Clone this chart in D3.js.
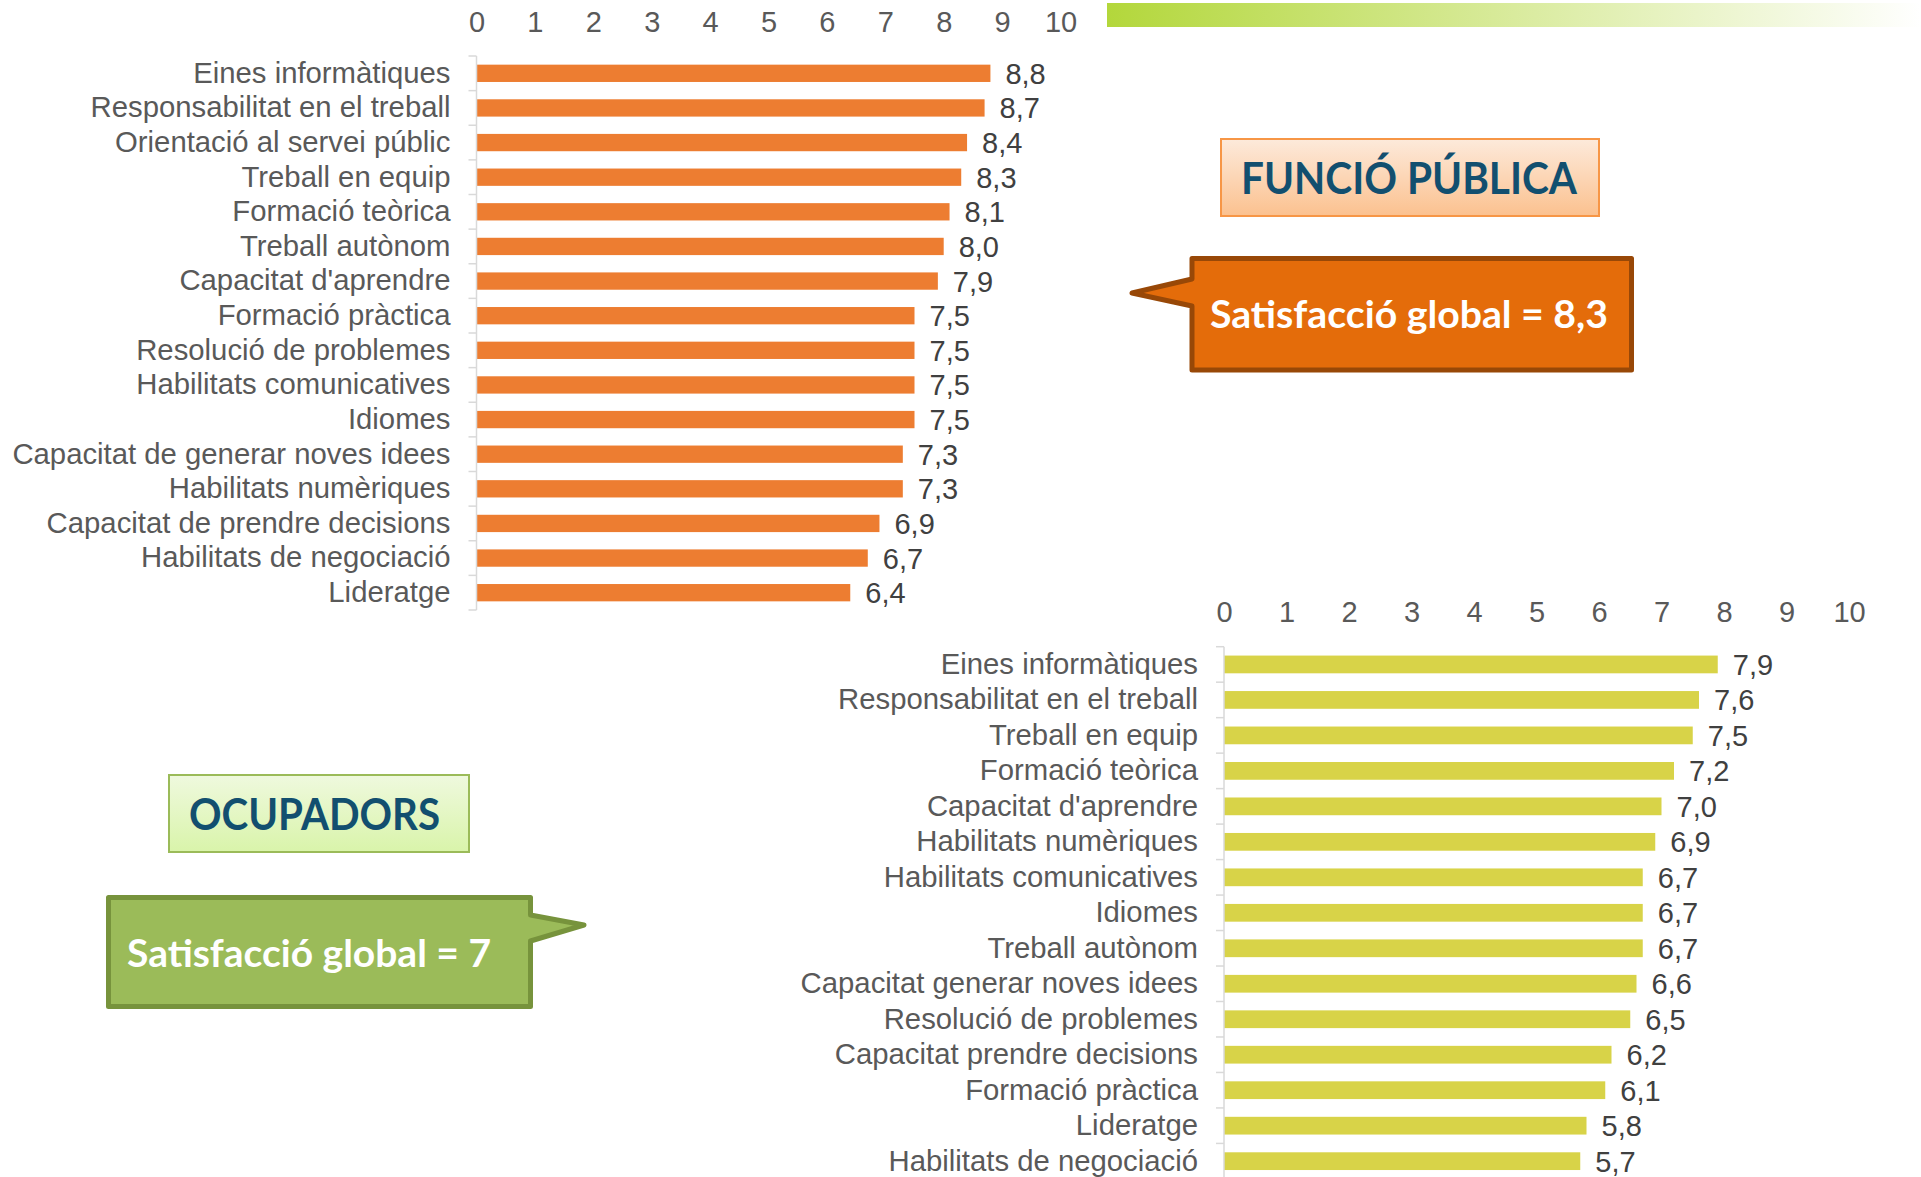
<!DOCTYPE html>
<html>
<head>
<meta charset="utf-8">
<script src="https://cdn.jsdelivr.net/npm/d3@7"></script>
<style>
  body { margin: 0; background: #fff; }
  text { font-family: "Liberation Sans", Arial, sans-serif; }
  .box text { font-family: Lato, "Open Sans", sans-serif; font-weight: bold; }
</style>
</head>
<body>
<svg id="chart" width="1921" height="1177"></svg>
<script>
// Funció pública
var funcioCats = ["Eines informàtiques", "Responsabilitat en el treball", "Orientació al servei públic",
  "Treball en equip", "Formació teòrica", "Treball autònom", "Capacitat d'aprendre", "Formació pràctica",
  "Resolució de problemes", "Habilitats comunicatives", "Idiomes", "Capacitat de generar noves idees",
  "Habilitats numèriques", "Capacitat de prendre decisions", "Habilitats de negociació", "Lideratge"];
var funcioVals = [8.8, 8.7, 8.4, 8.3, 8.1, 8.0, 7.9, 7.5, 7.5, 7.5, 7.5, 7.3, 7.3, 6.9, 6.7, 6.4];

// Ocupadors
var ocupCats = ["Eines informàtiques", "Responsabilitat en el treball", "Treball en equip",
  "Formació teòrica", "Capacitat d'aprendre", "Habilitats numèriques", "Habilitats comunicatives",
  "Idiomes", "Treball autònom", "Capacitat generar noves idees", "Resolució de problemes",
  "Capacitat prendre decisions", "Formació pràctica", "Lideratge", "Habilitats de negociació"];
var ocupVals = [7.9, 7.6, 7.5, 7.2, 7.0, 6.9, 6.7, 6.7, 6.7, 6.6, 6.5, 6.2, 6.1, 5.8, 5.7];

var tickVals = [0, 1, 2, 3, 4, 5, 6, 7, 8, 9, 10];
var globalFuncio = "8,3";
var globalOcup = "7";

var svg = d3.select("#chart");
var fmt = d3.formatLocale({decimal: ",", thousands: ".", grouping: [3], currency: ["", "€"]}).format(".1f");

// green header strip
var defs = svg.append("defs");
var strip = defs.append("linearGradient").attr("id", "strip");
strip.append("stop").attr("offset", "0%").attr("stop-color", "#b3d73b");
strip.append("stop").attr("offset", "100%").attr("stop-color", "#ffffff");
var peach = defs.append("linearGradient").attr("id", "peach").attr("x2", 0).attr("y2", 1);
peach.append("stop").attr("offset", "0%").attr("stop-color", "#fdeadb");
peach.append("stop").attr("offset", "100%").attr("stop-color", "#fbc18f");
var lime = defs.append("linearGradient").attr("id", "lime").attr("x2", 0).attr("y2", 1);
lime.append("stop").attr("offset", "0%").attr("stop-color", "#eff9de");
lime.append("stop").attr("offset", "100%").attr("stop-color", "#d9f4aa");

svg.append("rect").attr("x", 1107).attr("y", 3).attr("width", 814).attr("height", 24)
  .attr("fill", "url(#strip)");

function barChart(cats, vals, o) {
  var g = svg.append("g");
  var x = d3.scaleLinear().domain([0, 10]).range([o.x0, o.x1]);
  var y = d3.scaleBand().domain(cats).range([o.y0, o.y1]).paddingInner(0.5).paddingOuter(0.25);

  // value ticks on top
  var ax = g.append("g").attr("transform", "translate(0," + o.tickY + ")")
    .call(d3.axisTop(x).tickValues(tickVals).tickSize(0).tickPadding(0).tickFormat(d3.format("d")));
  ax.select(".domain").remove();
  ax.selectAll("text").attr("font-size", 29).attr("fill", "#595959");

  g.selectAll(".bar").data(vals).enter().append("rect")
    .attr("x", x(0))
    .attr("y", (d, i) => y(cats[i]))
    .attr("width", d => x(d) - x(0))
    .attr("height", y.bandwidth())
    .attr("fill", o.color);

  // category axis
  var ay = g.append("g").attr("transform", "translate(" + x(0) + ",0)")
    .call(d3.axisLeft(y).tickSize(0).tickPadding(26));
  ay.select(".domain").remove();
  ay.selectAll("text").attr("font-size", 29.3).attr("fill", "#595959");

  g.append("line").attr("x1", x(0)).attr("x2", x(0)).attr("y1", o.y0).attr("y2", o.y1)
    .attr("stroke", "#d9d9d9").attr("stroke-width", 1.5);
  g.selectAll(".sep").data(d3.range(cats.length + 1)).enter().append("line")
    .attr("x1", x(0) - 8).attr("x2", x(0))
    .attr("y1", i => o.y0 + i * y.step()).attr("y2", i => o.y0 + i * y.step())
    .attr("stroke", "#d9d9d9").attr("stroke-width", 1.5);

  g.selectAll(".val").data(vals).enter().append("text")
    .attr("x", d => x(d) + 15)
    .attr("y", (d, i) => y(cats[i]) + y.bandwidth() / 2)
    .attr("dy", "0.36em")
    .attr("font-size", 29).attr("fill", "#404040")
    .text(d => fmt(d));
}

barChart(funcioCats, funcioVals, {x0: 476.5, x1: 1060.5, y0: 56, y1: 610, tickY: 31.5, color: "#ed7d31"});
barChart(ocupCats, ocupVals, {x0: 1224, x1: 1849, y0: 646.7, y1: 1178.9, tickY: 622, color: "#d8d348"});

// title boxes and callouts
var boxes = svg.append("g").attr("class", "box");

boxes.append("rect").attr("x", 1221).attr("y", 139).attr("width", 378).attr("height", 77)
  .attr("fill", "url(#peach)").attr("stroke", "#f79646").attr("stroke-width", 2);
boxes.append("text").attr("x", 1241).attr("y", 194).attr("font-size", 43).attr("fill", "#124f6f")
  .attr("textLength", 336).attr("lengthAdjust", "spacingAndGlyphs").text("FUNCIÓ PÚBLICA");

boxes.append("path")
  .attr("d", "M1192,258.5 H1631.5 V370 H1192 V306 L1132,293 L1192,279 Z")
  .attr("fill", "#e46c0a").attr("stroke", "#984807").attr("stroke-width", 5).attr("stroke-linejoin", "round");
boxes.append("text").attr("x", 1210).attr("y", 328).attr("font-size", 38).attr("fill", "#fff")
  .attr("textLength", 398).attr("lengthAdjust", "spacingAndGlyphs").text("Satisfacció global = " + globalFuncio);

boxes.append("rect").attr("x", 169).attr("y", 775).attr("width", 300).attr("height", 77)
  .attr("fill", "url(#lime)").attr("stroke", "#9bbb59").attr("stroke-width", 2);
boxes.append("text").attr("x", 189).attr("y", 830).attr("font-size", 43).attr("fill", "#124f6f")
  .attr("textLength", 251).attr("lengthAdjust", "spacingAndGlyphs").text("OCUPADORS");

boxes.append("path")
  .attr("d", "M108.5,897.5 H530.5 V915 L584,925 L530.5,941 V1006.5 H108.5 Z")
  .attr("fill", "#9bbb59").attr("stroke", "#77933c").attr("stroke-width", 5).attr("stroke-linejoin", "round");
boxes.append("text").attr("x", 127).attr("y", 967).attr("font-size", 38).attr("fill", "#fff")
  .attr("textLength", 364).attr("lengthAdjust", "spacingAndGlyphs").text("Satisfacció global = " + globalOcup);
</script>
</body>
</html>
